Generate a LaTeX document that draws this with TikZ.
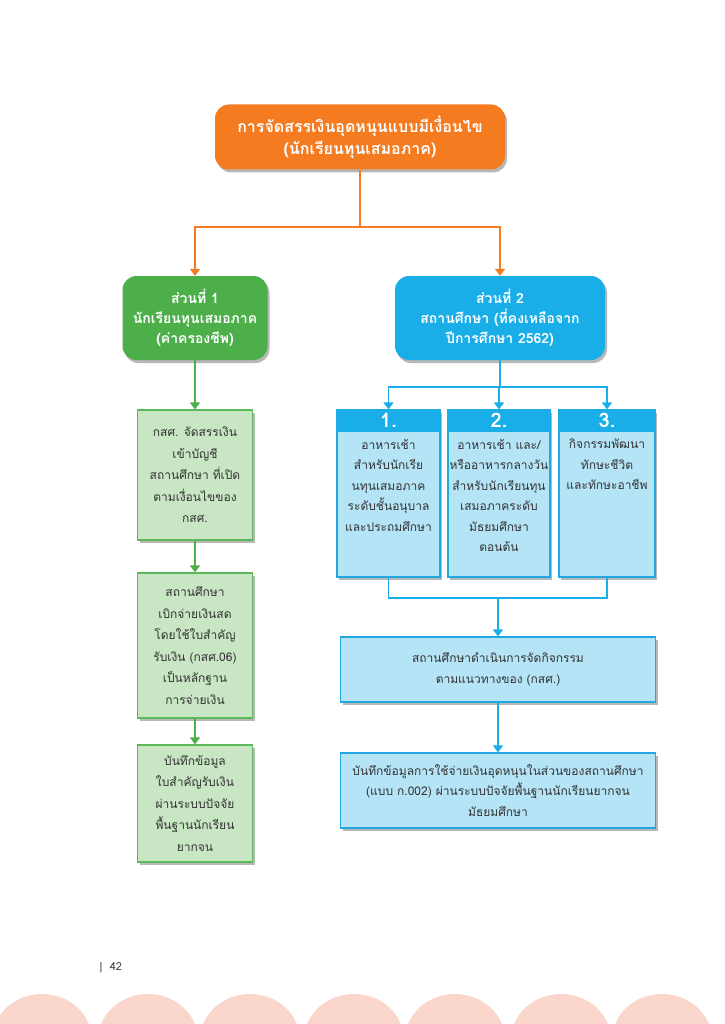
\documentclass[tikz,border=0pt]{standalone}
\usepackage{fontspec}
\newfontfamily\thai[Script=Thai]{Loma}
\usetikzlibrary{arrows.meta,shadows}
\definecolor{orng}{HTML}{F47B20}
\definecolor{grn}{HTML}{4DAF4A}
\definecolor{lgrn}{HTML}{C8E6C3}
\definecolor{grnline}{HTML}{5DB85A}
\definecolor{blu}{HTML}{1AAEE8}
\definecolor{lblu}{HTML}{B5E4F7}
\definecolor{bluline}{HTML}{22A8E0}
\definecolor{txt}{HTML}{333333}
\definecolor{pinkarc}{HTML}{FBD6CC}
\begin{document}
\begin{tikzpicture}[x=1pt,y=-1pt,
  shad/.style={drop shadow={shadow xshift=2pt,shadow yshift=-3pt,opacity=0.4,fill=black!70}},
  mainbox/.style={rounded corners=14pt, shad, text=white, align=center, inner sep=0pt,
     font=\thai\bfseries\fontsize{16}{22}\selectfont},
  secbox/.style={rounded corners=14pt, shad, text=white, align=center, inner sep=0pt,
     font=\thai\bfseries\fontsize{14}{20}\selectfont},
  gbox/.style={fill=lgrn, draw=grnline, line width=1.2pt, shad, text=txt, align=center, inner sep=0pt,
     minimum width=115pt, font=\thai\fontsize{12}{21.5}\selectfont},
  cbox/.style={fill=lblu, draw=bluline, line width=1.2pt, shad, inner sep=0pt},
  hdr/.style={fill=blu, text=white, inner sep=0pt, minimum height=22pt,
     font=\thai\bfseries\fontsize{20}{20}\selectfont},
  ctext/.style={text=txt, align=center, inner sep=0pt, anchor=north,
     font=\thai\fontsize{12}{20.5}\selectfont},
  dbox/.style={fill=lblu, draw=bluline, line width=1.2pt, shad, text=txt, align=center, inner sep=0pt,
     minimum width=315pt, font=\thai\fontsize{12}{20.5}\selectfont},
  oarr/.style={draw=orng, line width=1.6pt, -{Triangle[width=10pt,length=7pt]}},
  oline/.style={draw=orng, line width=1.6pt},
  garr/.style={draw=grn, line width=1.6pt, -{Triangle[width=10pt,length=7pt]}},
  barr/.style={draw=blu, line width=1.6pt, -{Triangle[width=10pt,length=7pt]}},
  bline/.style={draw=blu, line width=1.6pt},
]
\useasboundingbox (0,0) rectangle (724,1024);
\fill[white] (0,0) rectangle (724,1024);

% bottom decoration
\foreach \cx in {42,148,250,354,455,561,662}
  \fill[pinkarc] (\cx,1040) ellipse [x radius=50, y radius=46];

\node[text=black!75, font=\thai\fontsize{11}{11}\selectfont, anchor=west] (pg) at (96,968) {|\ \ 42};

% top
\node[mainbox, fill=orng, minimum width=290pt, minimum height=65pt] (top) at (360,137)
  {การจัดสรรเงินอุดหนุนแบบมีเงื่อนไข\\(นักเรียนทุนเสมอภาค)};

% section boxes
\node[secbox, fill=grn, minimum width=145pt, minimum height=84pt] (g1) at (195,318)
  {ส่วนที่ 1\\นักเรียนทุนเสมอภาค\\(ค่าครองชีพ)};
\node[secbox, fill=blu, minimum width=210pt, minimum height=84pt] (b1) at (500,318)
  {ส่วนที่ 2\\สถานศึกษา (ที่คงเหลือจาก\\ปีการศึกษา 2562)};

\coordinate (oj) at (360,227);
\draw[oline] (top.south) -- (oj);
\draw[oarr] (oj) -| (g1.north);
\draw[oarr] (oj) -| (b1.north);

% left column
\node[gbox, minimum height=130pt] (gA) at (195,475)
  {กสศ. จัดสรรเงิน\\เข้าบัญชี\\สถานศึกษา ที่เปิด\\ตามเงื่อนไขของ\\กสศ.};
\node[gbox, minimum height=145pt] (gB) at (195,645.5)
  {สถานศึกษา\\เบิกจ่ายเงินสด\\โดยใช้ใบสำคัญ\\รับเงิน (กสศ.06)\\เป็นหลักฐาน\\การจ่ายเงิน};
\node[gbox, minimum height=117pt] (gC) at (195,803.5)
  {บันทึกข้อมูล\\ใบสำคัญรับเงิน\\ผ่านระบบปัจจัย\\พื้นฐานนักเรียน\\ยากจน};
\draw[garr] (g1.south) -- (gA.north);
\draw[garr] (gA.south) -- (gB.north);
\draw[garr] (gB.south) -- (gC.north);

% right columns
\node[cbox, minimum width=103pt, minimum height=167pt] (c1) at (388.5,493.5) {};
\node[cbox, minimum width=102pt, minimum height=167pt] (c2) at (499,493.5) {};
\node[cbox, minimum width=96pt, minimum height=167pt] (c3) at (607,493.5) {};
\node[hdr, minimum width=103pt, anchor=north] (h1) at (c1.north) {1.};
\node[hdr, minimum width=102pt, anchor=north] (h2) at (c2.north) {2.};
\node[hdr, minimum width=96pt, anchor=north] (h3) at (c3.north) {3.};
\node[ctext] (t1) at (388.5,439) {อาหารเช้า\\สำหรับนักเรีย\\นทุนเสมอภาค\\ระดับชั้นอนุบาล\\และประถมศึกษา};
\node[ctext] (t2) at (499,439) {อาหารเช้า และ/\\หรืออาหารกลางวัน\\สำหรับนักเรียนทุน\\เสมอภาคระดับ\\มัธยมศึกษา\\ตอนต้น};
\node[ctext] (t3) at (607,439) {กิจกรรมพัฒนา\\ทักษะชีวิต\\และทักษะอาชีพ};

\coordinate (bj) at (499,387);
\draw[bline] (b1.south) -- (b1.south |- bj);
\draw[barr] (bj) -| (c1.north);
\draw[barr] (bj) -- (c2.north);
\draw[barr] (bj) -| (c3.north);

\node[dbox, minimum height=65pt] (d4) at (498,669.5)
  {สถานศึกษาดำเนินการจัดกิจกรรม\\ตามแนวทางของ (กสศ.)};
\node[dbox, minimum height=75pt] (d5) at (498,790.5)
  {บันทึกข้อมูลการใช้จ่ายเงินอุดหนุนในส่วนของสถานศึกษา\\(แบบ ก.002) ผ่านระบบปัจจัยพื้นฐานนักเรียนยากจน\\มัธยมศึกษา};

\coordinate (cj) at (498,598);
\draw[bline] (c1.south) |- (cj) -| (c3.south);
\draw[barr] (cj) -- (d4.north);
\draw[barr] (d4.south) -- (d5.north);
\end{tikzpicture}
\end{document}
